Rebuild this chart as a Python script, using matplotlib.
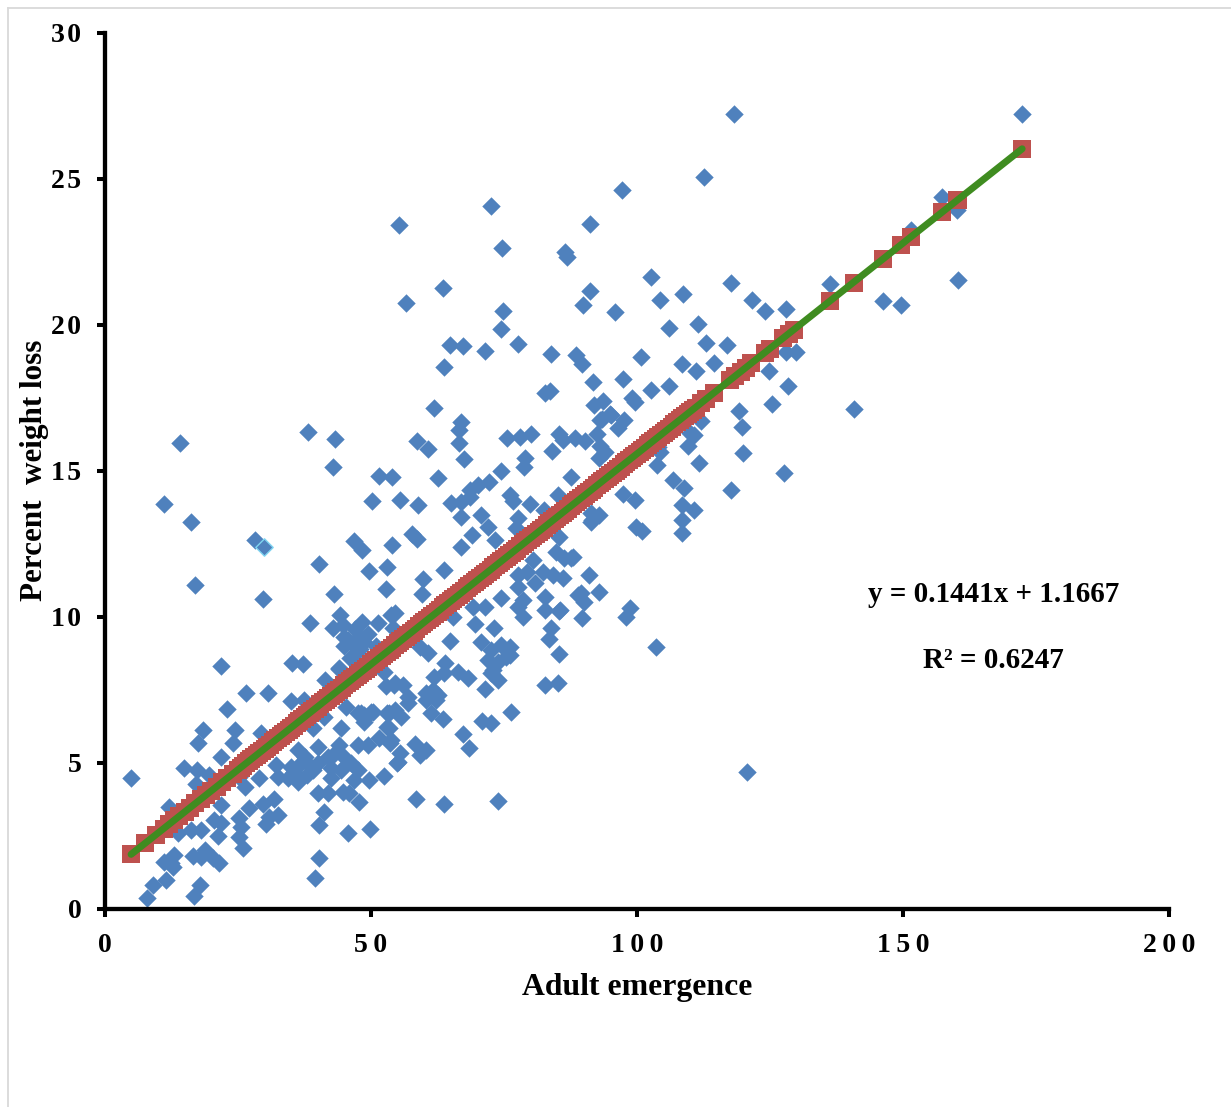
import matplotlib
matplotlib.use('Agg')
import matplotlib.pyplot as plt
from matplotlib.lines import Line2D

# adult emergence, percent weight loss
far_points = [
    (4.9, 4.5), (118.3, 27.2), (172.4, 27.2), (112.5, 25.07), (97.1, 24.6), (72.5, 24.07), (55.2, 23.4),
    (74.6, 22.64), (91.1, 23.46), (86.4, 22.5), (86.8, 22.3), (56.5, 20.75), (63.5, 21.27), (74.9, 20.48),
    (91.1, 21.16), (89.8, 20.68), (95.8, 20.45), (102.7, 21.64), (104.4, 20.86), (108.7, 21.06), (117.7, 21.44),
    (121.7, 20.86), (124.1, 20.48), (128.1, 20.55), (111.4, 20.03), (106.1, 19.9), (74.4, 19.86), (77.7, 19.35),
    (64.8, 19.3), (67.2, 19.28), (71.4, 19.1), (63.8, 18.56), (83.8, 19.0), (88.6, 18.97), (89.6, 18.66),
    (91.8, 18.05), (97.3, 18.15), (100.7, 18.9), (102.7, 17.77), (106.1, 17.9), (108.4, 18.66), (111, 18.42),
    (112.9, 19.38), (117, 19.3), (114.4, 18.7), (82.8, 17.67), (83.6, 17.74), (61.8, 17.16), (93.7, 17.4),
    (92, 17.26), (99, 17.5), (99.7, 17.36), (93.1, 16.75), (95.2, 16.9), (97.5, 16.75), (96.5, 16.47),
    (66.9, 16.68), (66.5, 16.4), (38.1, 16.34), (43.2, 16.1), (14.1, 15.96), (58.6, 16.03), (60.8, 15.75),
    (66.5, 15.96), (67.4, 15.4), (75.5, 16.13), (78.1, 16.16), (80, 16.27), (85.3, 16.27), (86, 16.06),
    (88.3, 16.13), (90.3, 16.03), (92.4, 16.27), (93.1, 15.86), (84.1, 15.68), (78.9, 15.45), (92.8, 15.45),
    (94, 15.65), (42.8, 15.14), (51.5, 14.83), (53.9, 14.8), (74.4, 15), (78.7, 15.14), (62.5, 14.76),
    (87.5, 14.8), (97.3, 14.2), (99.7, 14), (104, 15.82), (103.7, 15.2), (106.7, 14.7), (108.9, 14.4),
    (111.7, 15.27), (109.5, 15.85), (110.8, 16.23), (112.1, 16.7), (119.1, 17.05), (119.7, 16.5), (120, 15.62),
    (117.7, 14.35), (127.7, 14.93), (140.7, 17.1), (125.4, 17.3), (124.9, 18.42), (128.3, 17.9), (128.1, 19.08),
    (129.8, 19.08), (136.3, 21.4), (146.3, 20.82), (149.7, 20.68), (160.4, 21.54), (157.4, 24.38), (160.2, 23.94),
    (151.5, 23.25), (110.8, 13.66), (108.5, 13.83), (108.4, 13.32), (108.4, 12.87), (99.9, 13.08), (101, 12.95),
    (103.5, 8.97), (98.6, 10.3), (98, 10), (120.6, 4.69), (28.2, 12.64), (16.2, 13.25), (11.1, 13.87),
    (16.9, 11.1), (29.7, 10.62), (40.2, 11.82), (38.5, 9.8), (21.8, 8.32), (35.1, 8.42), (37.2, 8.39),
    (26.5, 7.4), (30.6, 7.4), (22.9, 6.85), (18.4, 6.13), (17.5, 5.68), (24.4, 6.13), (24, 5.68),
    (29.3, 6.03), (21.8, 5.2), (14.8, 4.83), (17.3, 4.76), (19.5, 4.59), (93.5, 16.78), (95, 16.95),
    (104.4, 15.65), (110, 16.3),
]
lower_left_points = [
    (26.3, 4.18), (25.2, 4.52), (31.7, 3.77), (29.7, 3.6), (32.5, 3.22), (30.8, 3.15), (30.2, 2.91),
    (27, 3.46), (25.2, 3.12), (25.5, 2.81), (25.2, 2.47), (25.9, 2.09), (21.8, 3.56), (20.5, 3.05),
    (21.8, 2.95), (21.2, 2.5), (18, 2.71), (16.2, 2.71), (13.7, 2.6), (21.4, 1.58), (20.3, 1.75),
    (18.8, 2.02), (16.5, 1.82), (18, 1.78), (13, 1.85), (12.4, 1.58), (11.1, 1.61), (12.8, 1.44),
    (11.5, 0.99), (9, 0.82), (7.9, 0.38), (17.8, 0.82), (16.7, 0.45), (12, 3.49), (17.1, 4.28),
]
middle_low_points = [
    (34.9, 7.12), (37.4, 7.16), (41.3, 7.84), (42.8, 9.62), (44.1, 10.07), (44.7, 9.73), (48.3, 9.83),
    (51.3, 9.79), (53.7, 10.07), (54.6, 10.14), (47.7, 9.32), (44.9, 9.32), (46.8, 9.04), (48.6, 9.14),
    (54.1, 9.62), (43.9, 8.25), (45.3, 6.92), (47.5, 6.71), (48.6, 6.64), (50.3, 6.75), (53.1, 6.71),
    (54.6, 6.82), (53.1, 6.23), (53.7, 5.79), (49.4, 5.62), (47.5, 5.62), (44.3, 6.2), (43.9, 5.62),
    (40, 5.55), (39.1, 6.2), (41.1, 6.58), (36.2, 5.45), (34.9, 4.86), (36.8, 5), (32.1, 4.93),
    (32.5, 4.52), (28.9, 4.49), (34.4, 4.49), (36.2, 4.35), (39.1, 4.76), (40, 5), (41.9, 5.21),
    (42.4, 4.83), (44.3, 4.76), (46.2, 5), (47.5, 4.76), (46.8, 4.42), (49.6, 4.42), (52.4, 4.55),
    (55, 5.03), (40, 3.97), (41.9, 3.97), (44.7, 4.01), (45.8, 3.97), (47.7, 3.66), (41.1, 3.32),
    (40.2, 2.88), (45.6, 2.6), (49.8, 2.74), (40.2, 1.75), (39.4, 1.06),
    (46, 8.6), (48, 8.9), (44, 8.2), (47, 9.6), (49.5, 9.4), (45, 9.0), (51, 9.0),
    (38, 4.6), (35.5, 4.7), (37.5, 5.2), (43, 5.3), (45, 5.2), (42.5, 4.5), (38.5, 4.9),
]
middle_points = [
    (46.8, 12.6), (48.3, 12.29), (53.9, 12.47), (57.8, 12.84), (58.6, 12.67), (50.1, 13.97), (55.4, 14.01),
    (58.8, 13.84), (49.6, 11.58), (53.1, 11.71), (52.8, 10.96), (43, 10.79), (59.7, 11.3), (59.5, 10.79),
    (63.8, 11.61), (65, 13.9), (66.9, 13.94), (68.7, 14.35), (70.2, 14.52), (72.1, 14.62), (68.9, 12.81),
    (66.9, 12.4), (70.6, 13.49), (66.9, 13.42), (71.9, 13.08), (68.7, 14.11), (76.2, 14.18), (76.6, 13.97),
    (79.8, 13.87), (85.1, 14.18), (82.6, 13.66), (77.6, 13.39), (77.2, 13.05), (73.4, 12.64), (90.9, 11.44),
    (92.8, 10.86), (90, 10.51), (89.4, 10.82), (89.6, 9.97), (91.3, 13.56), (91.3, 13.25), (85.3, 12.74),
    (84.7, 12.23), (87.9, 12.05), (86.2, 12.02), (80.4, 11.95), (77.7, 11.44), (79.4, 11.54), (77.7, 11.03),
    (80.9, 11.16), (82.3, 11.54), (84.3, 11.44), (86, 11.34), (82.8, 10.68), (82.8, 10.24), (85.6, 10.24),
    (78.5, 10.58), (77.6, 10.34), (78.5, 10), (74.4, 10.65), (71.5, 10.34), (69.1, 10.34), (69.5, 9.76),
    (73.1, 9.62), (64.8, 9.18), (65.5, 10), (83.8, 9.62), (83.4, 9.25), (85.4, 8.73), (82.8, 7.67),
    (85.1, 7.74), (70.6, 9.14), (72.5, 8.87), (74.4, 9.04), (76.2, 8.97), (75.3, 8.63), (71.9, 8.53),
    (73.8, 8.46), (72.5, 8.08), (73.8, 7.84), (71.5, 7.53), (68.2, 7.91), (66.3, 8.12), (64, 8.42),
    (61.8, 7.95), (63.7, 8.08), (61.6, 7.5), (62.5, 7.33), (60.7, 8.77), (59.3, 8.97), (60.3, 7.4),
    (56.9, 7.26), (56, 7.67), (52.8, 7.64), (54.6, 7.74), (52.4, 8.12), (45.6, 9.21), (48.1, 9.21),
    (47.1, 8.77), (76.1, 8.7), (73, 8.18), (54.3, 7.67), (56.9, 7.05), (60.3, 7.16), (62.2, 7.16),
    (61.2, 6.71), (63.5, 6.51), (55.6, 6.58), (53.3, 6.71), (50, 6.75), (48.1, 6.71), (48.6, 6.4),
    (53.3, 6.2), (51.5, 5.86), (53.5, 5.68), (55.4, 5.34), (54.8, 5), (58.2, 5.65), (59.3, 5.27),
    (60.3, 5.45), (58.4, 3.77), (63.8, 3.6), (73.8, 3.7), (67.2, 5.99), (68.4, 5.51), (70.8, 6.44),
    (72.5, 6.37), (76.4, 6.75), (91.6, 13.32), (92.8, 13.49), (87.5, 12.02), (89, 10.75), (85.4, 10.2),
]
pale_point = [(29.9, 12.4)]

# fitted values, one square per observation
fitted_x = [
    4.9, 7.5, 9.5, 11, 12, 13, 14, 15, 16, 17, 18, 19, 20, 21, 22, 23, 24, 25, 26, 27, 28, 29, 30,
    31, 32, 33, 34, 35, 36, 37, 38, 39, 40, 41, 42, 43, 44, 45, 46, 47, 48, 49, 50, 51, 52, 53, 54,
    55, 56, 57, 58, 59, 60, 61, 62, 63, 64, 65, 66, 67, 68, 69, 70, 71, 72, 73, 74, 75, 76, 77, 78,
    79, 80, 81, 82, 83, 84, 85, 86, 87, 88, 89, 90, 91, 92, 93, 94, 95, 96, 97, 98, 99, 100, 101, 102,
    103, 104, 105, 106, 107, 108, 109, 110, 111, 112, 113, 114.5, 117.5, 118.5, 119.5, 120.5, 121.5,
    124, 125, 127.5, 128.5, 129.5, 136.3, 140.7, 146.3, 149.7, 151.5, 157.4, 160.2, 160.4, 172.4,
]
fitted_y = [
    1.87, 2.25, 2.54, 2.75, 2.90, 3.04, 3.18, 3.33, 3.47, 3.62, 3.76, 3.90, 4.05, 4.19, 4.34, 4.48, 4.62, 4.77, 4.91, 5.06, 5.20, 5.35, 5.49,
    5.63, 5.78, 5.92, 6.07, 6.21, 6.35, 6.50, 6.64, 6.79, 6.93, 7.07, 7.22, 7.36, 7.51, 7.65, 7.80, 7.94, 8.08, 8.23, 8.37, 8.52, 8.66, 8.80, 8.95,
    9.09, 9.24, 9.38, 9.52, 9.67, 9.81, 9.96, 10.10, 10.25, 10.39, 10.53, 10.68, 10.82, 10.97, 11.11, 11.25, 11.40, 11.54, 11.69, 11.83, 11.97, 12.12, 12.26, 12.41,
    12.55, 12.69, 12.84, 12.98, 13.13, 13.27, 13.42, 13.56, 13.70, 13.85, 13.99, 14.14, 14.28, 14.42, 14.57, 14.71, 14.86, 15.00, 15.14, 15.29, 15.43, 15.58, 15.72, 15.87,
    16.01, 16.15, 16.30, 16.44, 16.59, 16.73, 16.87, 17.02, 17.16, 17.31, 17.45, 17.67, 18.10, 18.24, 18.39, 18.53, 18.68,
    19.04, 19.18, 19.54, 19.68, 19.83, 20.81, 21.44, 22.25, 22.74, 23.00, 23.85, 24.25, 24.28, 26.02,
]
fitted_mid_x = [
    25.5, 26.5, 27.5, 28.5, 29.5, 30.5, 31.5, 32.5, 33.5, 34.5, 35.5, 36.5, 37.5, 38.5, 39.5, 40.5, 41.5, 42.5, 43.5, 44.5,
    45.5, 46.5, 47.5, 48.5, 49.5, 50.5, 51.5, 52.5, 53.5, 54.5, 55.5, 56.5, 57.5, 58.5, 59.5, 60.5, 61.5, 62.5, 63.5, 64.5,
    65.5, 66.5, 67.5, 68.5, 69.5, 70.5, 71.5, 72.5, 73.5, 74.5, 75.5, 76.5, 77.5, 78.5, 79.5, 80.5, 81.5, 82.5, 83.5, 84.5,
    85.5, 86.5, 87.5, 88.5, 89.5, 90.5, 91.5, 92.5, 93.5, 94.5, 95.5, 96.5, 97.5, 98.5, 99.5, 100.5, 101.5, 102.5, 103.5, 104.5,
    105.5, 106.5, 107.5, 108.5, 109.5, 110.5,
]
fitted_mid_y = [
    4.84, 4.99, 5.13, 5.27, 5.42, 5.56, 5.71, 5.85, 5.99, 6.14, 6.28, 6.43, 6.57, 6.71, 6.86, 7.00, 7.15, 7.29, 7.43, 7.58,
    7.72, 7.87, 8.01, 8.16, 8.30, 8.44, 8.59, 8.73, 8.88, 9.02, 9.16, 9.31, 9.45, 9.60, 9.74, 9.88, 10.03, 10.17, 10.32, 10.46,
    10.60, 10.75, 10.89, 11.04, 11.18, 11.33, 11.47, 11.61, 11.76, 11.90, 12.05, 12.19, 12.33, 12.48, 12.62, 12.77, 12.91, 13.05, 13.20, 13.34,
    13.49, 13.63, 13.78, 13.92, 14.06, 14.21, 14.35, 14.50, 14.64, 14.78, 14.93, 15.07, 15.22, 15.36, 15.50, 15.65, 15.79, 15.94, 16.08, 16.22,
    16.37, 16.51, 16.66, 16.80, 16.95, 17.09,
]
trend_x = [4.9, 172.4]
trend_y = [1.87, 26.02]

x_ticks = [0, 50, 100, 150, 200]
y_ticks = [0, 5, 10, 15, 20, 25, 30]
x_tick_labels = ['0', '5\u20090', '1\u20090\u20090', '1\u20095\u20090', '2\u20090\u20090']
y_tick_labels = ['0', '5', '1\u200a0', '1\u200a5', '2\u200a0', '2\u200a5', '3\u200a0']

plt.rcParams['font.family'] = ['Liberation Serif', 'DejaVu Serif']
plt.rcParams['font.weight'] = 'bold'

W, H = 1231, 1107
fig = plt.figure(figsize=(W / 100, H / 100), dpi=100)
ax = fig.add_axes([105 / W, 1 - 909 / H, (1169 - 105) / W, (909 - 32.5) / H])

points = far_points + lower_left_points + middle_low_points + middle_points
ax.scatter([p[0] for p in points], [p[1] for p in points], marker='D', s=88, color='#4F81BD', linewidths=0, zorder=2)
ax.scatter([p[0] for p in pale_point], [p[1] for p in pale_point], marker='D', s=78, color='#4F81BD',
           edgecolors='#7FD4F0', linewidths=1, zorder=2)
ax.scatter(fitted_x + fitted_mid_x, fitted_y + fitted_mid_y, marker='s', s=165, color='#BE514E', linewidths=0, zorder=3)
ax.plot(trend_x, trend_y, color='#3F8C20', lw=5, solid_capstyle='round', zorder=4)

ax.set_xlim(0, 200)
ax.set_ylim(0, 30)
ax.set_xticks(x_ticks)
ax.set_xticklabels(x_tick_labels)
ax.set_yticks(y_ticks)
ax.set_yticklabels(y_tick_labels)
ax.spines['top'].set_visible(False)
ax.spines['right'].set_visible(False)
ax.spines['left'].set_linewidth(3.1)
ax.spines['bottom'].set_linewidth(3.1)
ax.tick_params(axis='x', length=6, width=2.9, labelsize=20, pad=11)
ax.tick_params(axis='y', length=6, width=2.9, labelsize=20, pad=11)

ax.text(167, 10.76, 'y = 0.1441x + 1.1667', fontsize=21, fontweight='bold', ha='center', va='center')
ax.text(167, 8.5, 'R\u00b2 = 0.6247', fontsize=21, fontweight='bold', ha='center', va='center')

fig.text(637 / W, 1 - 987 / H, 'Adult emergence', fontsize=22.9, fontweight='bold', ha='center', va='center')
fig.text(35 / W, 1 - 470 / H, 'Percent  weight loss', fontsize=22.4, fontweight='bold', rotation=90, ha='center', va='center')

# thin frame of the pasted picture
fig.add_artist(Line2D([8 / W, 8 / W], [0, 1 - 7.5 / H], color='#D9D9D9', lw=1.3))
fig.add_artist(Line2D([8 / W, 1], [1 - 7.5 / H, 1 - 7.5 / H], color='#D9D9D9', lw=1.3))

fig.savefig('out.png', dpi=100)
